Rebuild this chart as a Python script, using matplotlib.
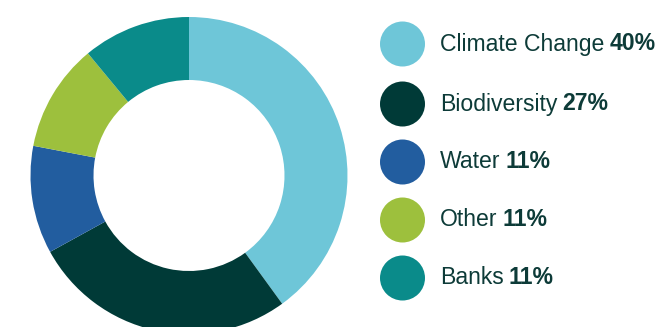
import matplotlib.pyplot as plt
from matplotlib.patches import Circle

# data
labels = ["Climate Change", "Biodiversity", "Water", "Other", "Banks"]
values = [40, 27, 11, 11, 11]
colors = ["#6EC6D8", "#003A37", "#225D9F", "#9DC03D", "#0A8B8A"]
text_color = "#0D3B38"

plt.rcParams['font.family'] = ['Liberation Sans', 'DejaVu Sans']

fig = plt.figure(figsize=(6.61, 3.27), dpi=100)
ax = fig.add_axes([0, 0, 1, 1])
ax.set_xlim(0, 661)
ax.set_ylim(0, 327)
ax.set_aspect('equal')
ax.axis('off')

# donut (pixel coordinates, y measured from bottom)
ax.pie(values, colors=colors, startangle=90, counterclock=False,
       center=(189, 327 - 175.5), radius=158.5,
       wedgeprops=dict(width=63, linewidth=0))
ax.set_xlim(0, 661)
ax.set_ylim(0, 327)

# legend with circles and text
rows_y = [44, 104, 162, 220, 278]
for i in range(len(labels)):
    y = 327 - rows_y[i]
    ax.add_patch(Circle((402.5, y), 22.5, color=colors[i], lw=0))
    t = ax.text(440, y, labels[i], fontsize=16.6, color=text_color,
                va='center', ha='left')
    ax.annotate(f"{values[i]}%", xy=(1, 0.5), xycoords=t,
                xytext=(3.5, 0), textcoords='offset points',
                fontsize=16.6, fontweight='bold', color=text_color,
                va='center', ha='left')

fig.savefig("out.png", dpi=100)
